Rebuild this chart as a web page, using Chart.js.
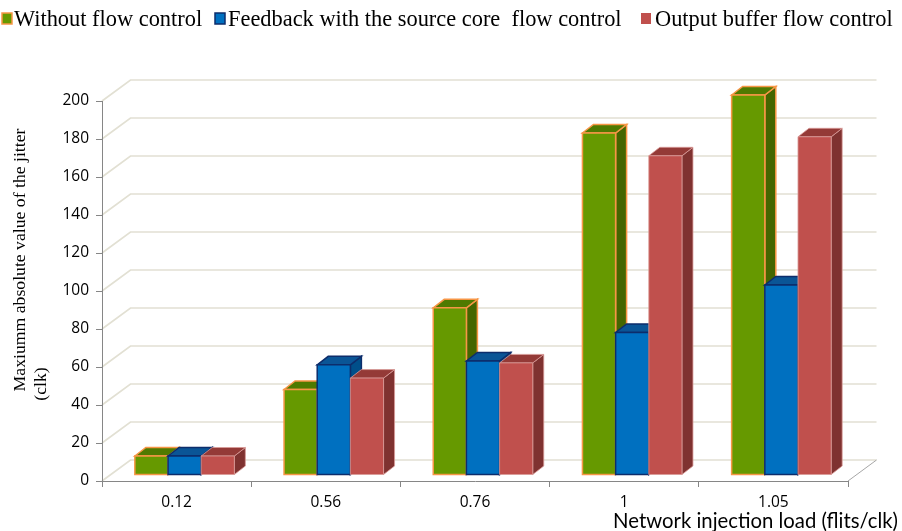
<!DOCTYPE html>
<html>
<head>
<meta charset="utf-8">
<script src="https://cdn.jsdelivr.net/npm/chart.js@4.4.1/dist/chart.umd.min.js"></script>
<style>
  html, body { margin: 0; padding: 0; background: #ffffff; overflow: hidden; }
  #wrap { width: 902px; height: 531px; position: relative; }
</style>
</head>
<body>
<div id="wrap"><canvas id="chart" width="902" height="531"></canvas></div>
<script>
// ---- data ----
const categories = ['0.12', '0.56', '0.76', '1', '1.05'];
const seriesNames = [
  'Without flow control',
  'Feedback with the source core  flow control',
  'Output buffer flow control'
];
const withoutFlowControl = [10, 45, 88, 180, 200];
const feedbackSourceCore = [10, 58, 60, 75, 100];
const outputBufferControl = [10, 51, 59, 168, 178];
const yMin = 0, yMax = 200, yStep = 20;
const xAxisTitle = 'Network injection load (flits/clk)';
const yAxisTitle = ['Maxiumm absolute value of the jitter', '(clk)'];

// ---- styles ----
const faceStyles = [
  { front: '#669900', side: '#446600', top: '#4f7a00', edge: '#f79646', edgeW: 1.5 },
  { front: '#0070c0', side: '#004f8a', top: '#0a5596', edge: '#0d2d6b', edgeW: 1.5 },
  { front: '#c0504d', side: '#7f3230', top: '#943a37', edge: '#d99a98', edgeW: 0.8 }
];
const WALL = { dx: 28.5, dy: -21 };      // depth of the plot box
const BAR_FRONT = { dx: 8, dy: -6 };     // where bar fronts sit inside the box
const BAR_DEPTH = { dx: 11, dy: -8.5 };  // depth of each bar
const gridColor = '#e2e0d3';
const axisColor = '#868686';

function poly(ctx, pts, fill, stroke, lw) {
  ctx.beginPath();
  ctx.moveTo(pts[0][0], pts[0][1]);
  for (let i = 1; i < pts.length; i++) ctx.lineTo(pts[i][0], pts[i][1]);
  ctx.closePath();
  if (fill) { ctx.fillStyle = fill; ctx.fill(); }
  if (stroke) { ctx.strokeStyle = stroke; ctx.lineWidth = lw; ctx.lineJoin = 'miter'; ctx.stroke(); }
}

// back wall, side wall and floor
const wallPlugin = {
  id: 'wallPlugin',
  beforeDraw(chart) {
    const { ctx, chartArea: a, scales: { y } } = chart;
    ctx.save();
    ctx.strokeStyle = gridColor;
    ctx.lineWidth = 1.7;
    for (let v = yMin; v <= yMax; v += yStep) {
      const py = y.getPixelForValue(v);
      ctx.beginPath();
      ctx.moveTo(a.left, py);
      ctx.lineTo(a.left + WALL.dx, py + WALL.dy);
      ctx.lineTo(a.right + WALL.dx, py + WALL.dy);
      ctx.stroke();
    }
    // right edge of the floor
    ctx.strokeStyle = '#a6a6a6';
    ctx.lineWidth = 1;
    ctx.beginPath();
    ctx.moveTo(a.right, a.bottom);
    ctx.lineTo(a.right + WALL.dx, a.bottom + WALL.dy);
    ctx.stroke();
    ctx.restore();
  }
};

// bars drawn as boxes from the bar elements laid out by Chart.js
const boxBarsPlugin = {
  id: 'boxBars',
  beforeDatasetsDraw(chart) {
    const ctx = chart.ctx;
    const metas = chart.data.datasets.map((d, i) => chart.getDatasetMeta(i));
    ctx.save();
    for (let c = 0; c < categories.length; c++) {
      metas.forEach((meta, s) => {
        const el = meta.data[c];
        const st = faceStyles[s];
        const x0 = el.x - el.width / 2 + BAR_FRONT.dx;
        const x1 = el.x + el.width / 2 + BAR_FRONT.dx;
        const t = el.y + BAR_FRONT.dy;
        const b = el.base + BAR_FRONT.dy;
        const ddx = BAR_DEPTH.dx, ddy = BAR_DEPTH.dy;
        poly(ctx, [[x1, b], [x1 + ddx, b + ddy], [x1 + ddx, t + ddy], [x1, t]], st.side, st.edge, st.edgeW);
        poly(ctx, [[x0, t], [x0 + ddx, t + ddy], [x1 + ddx, t + ddy], [x1, t]], st.top, st.edge, st.edgeW);
        poly(ctx, [[x0, t], [x1, t], [x1, b], [x0, b]], st.front, st.edge, st.edgeW);
      });
    }
    ctx.restore();
    return false;
  },
  afterDraw(chart) {
    const ctx = chart.ctx;
    ctx.save();
    // legend
    const boxX = [2, 215, 641];
    const textX = [14, 228, 655];
    ctx.font = '22.4px "Liberation Serif", "Times New Roman", serif';
    ctx.textBaseline = 'alphabetic';
    ctx.textAlign = 'left';
    chart.data.datasets.forEach((d, i) => {
      const st = faceStyles[i];
      ctx.fillStyle = st.front;
      ctx.fillRect(boxX[i], 13, 10, 11);
      if (i < 2) {
        ctx.strokeStyle = st.edge;
        ctx.lineWidth = 1.5;
        ctx.strokeRect(boxX[i], 13, 10, 11);
      }
      ctx.fillStyle = '#000';
      ctx.fillText(d.label, textX[i], 26);
    });
    // x axis title, right aligned
    let fs = 19;
    ctx.font = fs + 'px Lato, "Open Sans", sans-serif';
    const w = ctx.measureText(xAxisTitle).width;
    fs = fs * 285 / w;
    ctx.font = fs.toFixed(2) + 'px Lato, "Open Sans", sans-serif';
    ctx.textAlign = 'right';
    ctx.fillText(xAxisTitle, 898, 528);
    // y axis title, rotated
    ctx.font = '17.7px "Liberation Serif", "Times New Roman", serif';
    ctx.textAlign = 'center';
    ctx.textBaseline = 'middle';
    ctx.translate(20, 260);
    ctx.rotate(-Math.PI / 2);
    ctx.fillText(yAxisTitle[0], 0, 0);
    ctx.setTransform(1, 0, 0, 1, 0, 0);
    ctx.translate(41, 384);
    ctx.rotate(-Math.PI / 2);
    ctx.fillText(yAxisTitle[1], 0, 0);
    ctx.restore();
  }
};

const tickFont = { family: '"Open Sans", sans-serif', size: 15.5 };

new Chart(document.getElementById('chart'), {
  type: 'bar',
  data: {
    labels: categories,
    datasets: [
      { label: seriesNames[0], data: withoutFlowControl, backgroundColor: faceStyles[0].front },
      { label: seriesNames[1], data: feedbackSourceCore, backgroundColor: faceStyles[1].front },
      { label: seriesNames[2], data: outputBufferControl, backgroundColor: faceStyles[2].front }
    ]
  },
  options: {
    responsive: false,
    animation: false,
    devicePixelRatio: 1,
    categoryPercentage: 0.667,
    barPercentage: 1,
    layout: { padding: { top: 101, right: 54, left: 0, bottom: 0 } },
    plugins: { legend: { display: false }, tooltip: { enabled: false } },
    scales: {
      x: {
        offset: true,
        grid: { offset: true, drawOnChartArea: false, drawTicks: true, tickLength: 6, color: axisColor },
        border: { display: true, color: axisColor, width: 1 },
        ticks: { font: tickFont, color: '#000', padding: 6, maxRotation: 0 },
        afterFit(s) { s.height = 50; }
      },
      y: {
        min: yMin, max: yMax,
        grid: { drawOnChartArea: false, drawTicks: true, tickLength: 6, color: axisColor },
        border: { display: true, color: axisColor, width: 1 },
        ticks: { stepSize: yStep, font: tickFont, color: '#000', padding: 7 },
        afterFit(s) { s.width = 102; }
      }
    }
  },
  plugins: [wallPlugin, boxBarsPlugin]
});
</script>
</body>
</html>
